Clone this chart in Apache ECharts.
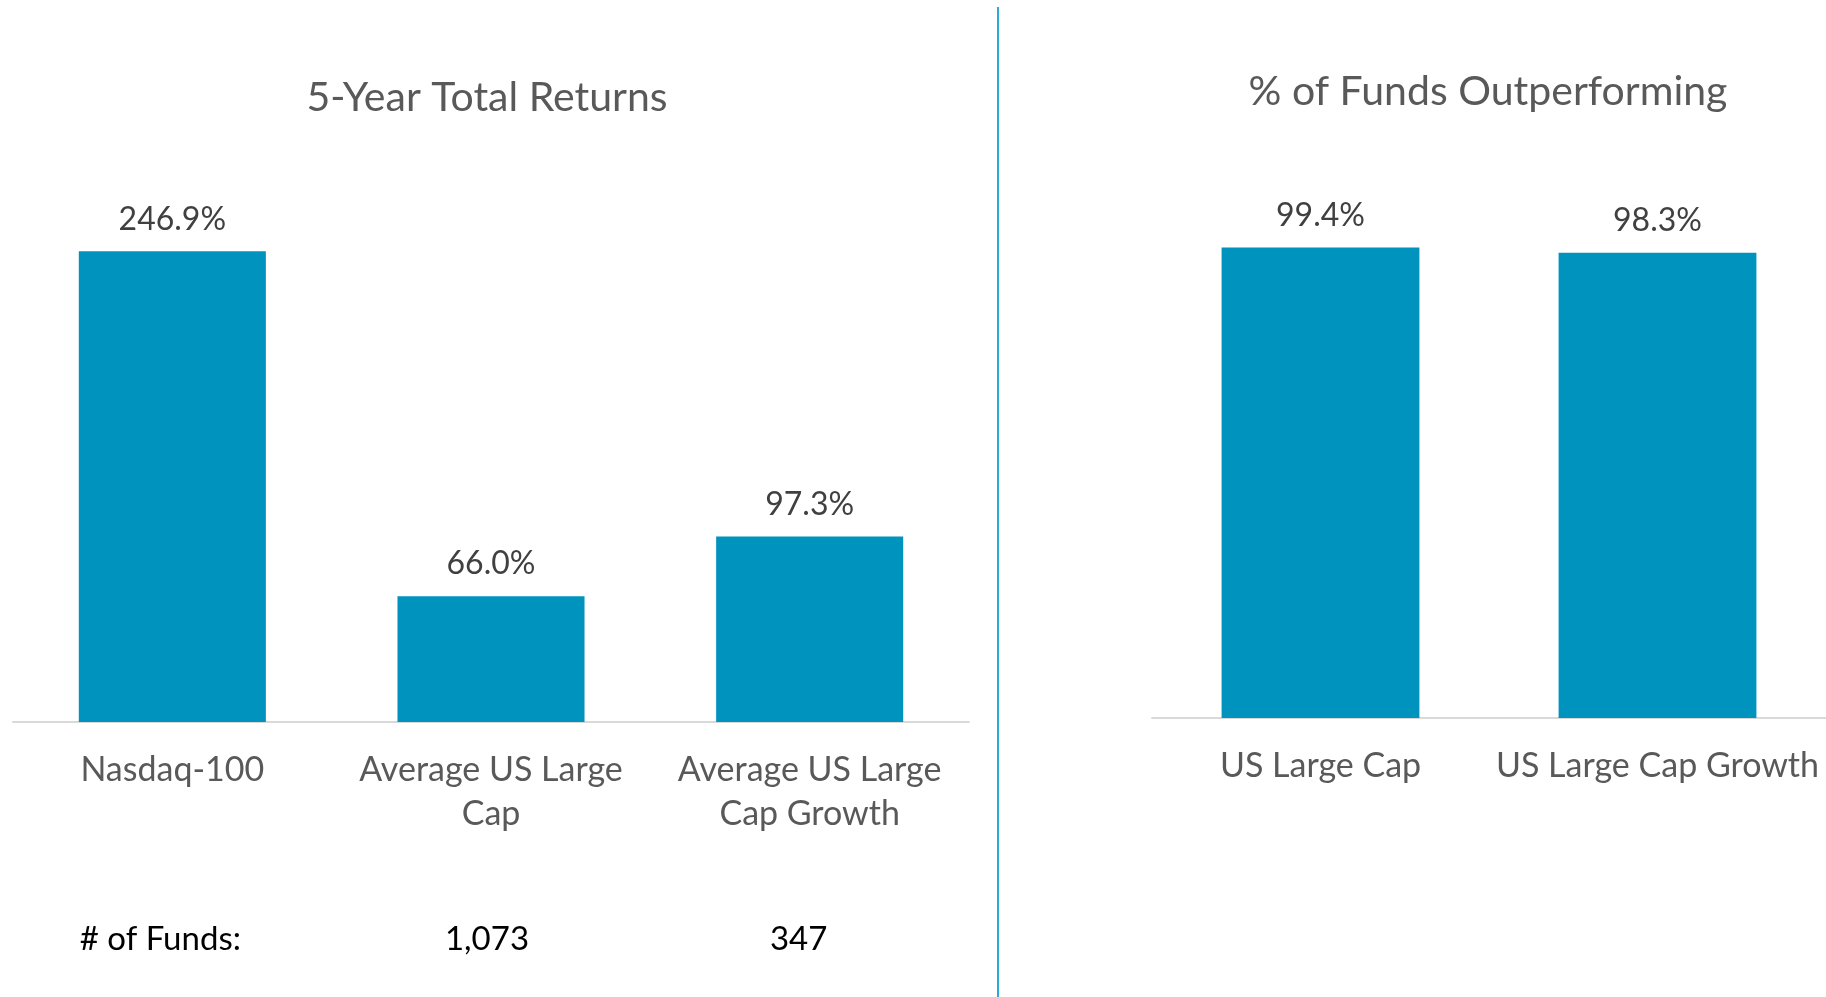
<!DOCTYPE html>
<html>
<head>
<meta charset="utf-8">
<script src="https://cdn.jsdelivr.net/npm/echarts@6/dist/echarts.min.js"></script>
<style>
	html, body { margin: 0; padding: 0; background: #fff; }
	#chart { width: 1826px; height: 997px; }
</style>
</head>
<body>
<div id="chart"></div>
<script>
// left panel: 5-year total returns
let returnCategories = ["Nasdaq-100", "Average US Large\nCap", "Average US Large\nCap Growth"]
let returnValues = [246.9, 66.0, 97.3]
let fundCountLabels = ["# of Funds:", "1,073", "347"]

// right panel: % of funds outperforming
let outperformCategories = ["US Large Cap", "US Large Cap Growth"]
let outperformValues = [99.4, 98.3]

let barColor = "#0093BD"
let font = "Lato"

let chart = echarts.init(document.getElementById("chart"))

let labelStyle = {
	show: true,
	position: "top",
	distance: 16,
	fontFamily: font,
	fontSize: 32,
	color: "#404040",
	formatter: function (p) {
		return p.value.toFixed(1) + "%"
	}
}

let categoryLabel = {
	fontFamily: font,
	fontSize: 34,
	color: "#595959",
	lineHeight: 44,
	margin: 26,
	interval: 0
}

let option = {
	animation: false,
	backgroundColor: "#fff",
	title: [
		{
			text: "5-Year Total Returns",
			left: 482,
			top: 93,
			textAlign: "center",
			textVerticalAlign: "middle",
			textStyle: { fontFamily: font, fontSize: 41, fontWeight: "normal", color: "#595959" }
		},
		{
			text: "% of Funds Outperforming",
			left: 1483,
			top: 87,
			textAlign: "center",
			textVerticalAlign: "middle",
			textStyle: { fontFamily: font, fontSize: 41, fontWeight: "normal", color: "#595959" }
		}
	],
	grid: [
		{ left: 13, width: 956, top: 150, bottom: 275 },
		{ left: 1152, right: 0, top: 150, bottom: 279 }
	],
	xAxis: [
		{
			type: "category",
			gridIndex: 0,
			data: returnCategories,
			axisLine: { lineStyle: { color: "#D9D9D9", width: 2 } },
			axisTick: { show: false },
			axisLabel: categoryLabel
		},
		{
			type: "category",
			gridIndex: 0,
			position: "bottom",
			data: fundCountLabels,
			axisLine: { show: false },
			axisTick: { show: false },
			axisLabel: {
				interval: 0,
				margin: 201,
				formatter: function (v, i) {
					return "{c" + i + "|" + v + "}"
				},
				rich: {
					c0: { fontFamily: font, fontSize: 33, color: "#000", padding: [0, 24, 0, 0] },
					c1: { fontFamily: font, fontSize: 33, color: "#000", padding: [0, 8, 0, 0] },
					c2: { fontFamily: font, fontSize: 33, color: "#000", padding: [0, 22, 0, 0] }
				}
			}
		},
		{
			type: "category",
			gridIndex: 1,
			data: outperformCategories,
			axisLine: { lineStyle: { color: "#D9D9D9", width: 2 } },
			axisTick: { show: false },
			axisLabel: categoryLabel
		}
	],
	yAxis: [
		{ type: "value", gridIndex: 0, min: 0, max: 300, show: false },
		{ type: "value", gridIndex: 1, min: 0, max: 120, show: false }
	],
	series: [
		{
			name: "5-Year Total Returns",
			type: "bar",
			xAxisIndex: 0,
			yAxisIndex: 0,
			data: returnValues,
			barWidth: "58.7%",
			itemStyle: { color: barColor },
			label: labelStyle
		},
		{
			name: "% of Funds Outperforming",
			type: "bar",
			xAxisIndex: 2,
			yAxisIndex: 1,
			data: outperformValues,
			barWidth: "58.7%",
			itemStyle: { color: barColor },
			label: labelStyle
		}
	],
	graphic: [
		{
			type: "line",
			shape: { x1: 998, y1: 7, x2: 998, y2: 997 },
			style: { stroke: "#2AABD6", lineWidth: 2 }
		}
	]
}
chart.setOption(option)
</script>
</body>
</html>
